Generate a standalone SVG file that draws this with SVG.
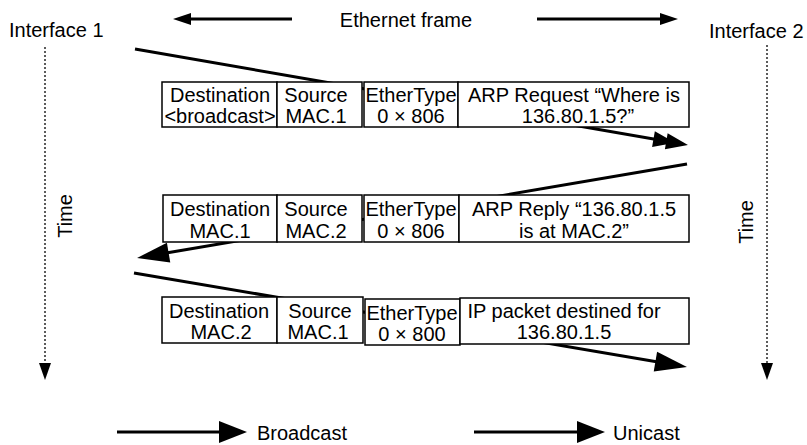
<svg xmlns="http://www.w3.org/2000/svg" width="807" height="445" viewBox="0 0 807 445">
<style>
text{font-family:"Liberation Sans",Arial,sans-serif;font-size:20px;fill:#000}
.c{text-anchor:middle}
.cell{fill:#fff;stroke:#000;stroke-width:1.5}
.ln{stroke:#000;stroke-width:3;fill:none}
.dot{stroke:#333;stroke-width:1.6;stroke-dasharray:2 2;fill:none}
</style>
<defs>
<marker id="bc" markerUnits="userSpaceOnUse" markerWidth="40" markerHeight="20" refX="25" refY="8" orient="auto" overflow="visible"><path d="M0,0 L22,8 L0,16 Z M13,0 L35,8 L13,16 Z" fill="#000"/></marker>
<marker id="uc" markerUnits="userSpaceOnUse" markerWidth="34" markerHeight="22" refX="22" refY="10" orient="auto" overflow="visible"><path d="M0,0 L32,10 L0,20 Z" fill="#000"/></marker>
<marker id="lg" markerUnits="userSpaceOnUse" markerWidth="30" markerHeight="24" refX="18" refY="11" orient="auto" overflow="visible"><path d="M0,0 L28,11 L0,22 Z" fill="#000"/></marker>
<marker id="sm" markerUnits="userSpaceOnUse" markerWidth="20" markerHeight="14" refX="8" refY="6" orient="auto" overflow="visible"><path d="M0,0 L18,6 L0,12 Z" fill="#000"/></marker>
<marker id="tm" markerUnits="userSpaceOnUse" markerWidth="20" markerHeight="14" refX="7" refY="6" orient="auto" overflow="visible"><path d="M0,0 L17,6 L0,12 Z" fill="#000"/></marker>
</defs>

<g id="connectors">
<line class="ln" x1="292" y1="19" x2="183" y2="19" marker-end="url(#sm)"/>
<line class="ln" x1="537" y1="19" x2="668" y2="19" marker-end="url(#sm)"/>
<line class="dot" x1="45" y1="47" x2="45" y2="370" marker-end="url(#tm)"/>
<line class="dot" x1="767" y1="45" x2="767" y2="370" marker-end="url(#tm)"/>
<line class="ln" x1="135" y1="49" x2="678.1" y2="143.3" marker-end="url(#bc)"/>
<line class="ln" x1="687" y1="164" x2="146.9" y2="256.3" marker-end="url(#uc)"/>
<line class="ln" x1="134" y1="273" x2="677.1" y2="365.3" marker-end="url(#uc)"/>
<line class="ln" x1="117" y1="432" x2="237" y2="432" marker-end="url(#lg)"/>
<line class="ln" x1="474" y1="432" x2="595" y2="432" marker-end="url(#lg)"/>
</g>

<g id="labels">
<text x="406" y="27" class="c">Ethernet frame</text>
<text x="9" y="37">Interface 1</text>
<text x="709" y="38">Interface 2</text>
<text transform="translate(72,216) rotate(-90)" class="c">Time</text>
<text transform="translate(753,222) rotate(-90)" class="c">Time</text>
<text x="257" y="440">Broadcast</text>
<text x="613" y="440">Unicast</text>
</g>

<g id="frame1">
<rect class="cell" x="162" y="82" width="115" height="45"/>
<rect class="cell" x="277" y="82" width="85" height="45"/>
<rect class="cell" x="364" y="82" width="94" height="45"/>
<rect class="cell" x="458" y="82" width="231" height="45"/>
<text x="220" y="102" class="c">Destination</text>
<text x="220" y="123" class="c">&lt;broadcast&gt;</text>
<text x="316" y="102" class="c">Source</text>
<text x="316" y="123" class="c">MAC.1</text>
<text x="411" y="102" class="c">EtherType</text>
<text x="411" y="123" class="c">0 × 806</text>
<text x="574" y="102" class="c">ARP Request “Where is</text>
<text x="578" y="123" class="c">136.80.1.5?”</text>
</g>

<g id="frame2">
<rect class="cell" x="163" y="195" width="114" height="47"/>
<rect class="cell" x="277" y="195" width="85" height="47"/>
<rect class="cell" x="364" y="195" width="95" height="47"/>
<rect class="cell" x="459" y="195" width="230" height="47"/>
<text x="220" y="216" class="c">Destination</text>
<text x="220" y="238" class="c">MAC.1</text>
<text x="316" y="216" class="c">Source</text>
<text x="316" y="238" class="c">MAC.2</text>
<text x="411" y="216" class="c">EtherType</text>
<text x="411" y="238" class="c">0 × 806</text>
<text x="574" y="216" class="c">ARP Reply “136.80.1.5</text>
<text x="574" y="238" class="c">is at MAC.2”</text>
</g>

<g id="frame3">
<rect class="cell" x="162" y="297" width="115" height="46"/>
<rect class="cell" x="277" y="297" width="86" height="46"/>
<rect class="cell" x="365" y="299" width="95" height="46"/>
<rect class="cell" x="460" y="298" width="229" height="46"/>
<text x="219" y="318" class="c">Destination</text>
<text x="221" y="339" class="c">MAC.2</text>
<text x="320" y="318" class="c">Source</text>
<text x="318" y="339" class="c">MAC.1</text>
<text x="412" y="320" class="c">EtherType</text>
<text x="412" y="341" class="c">0 × 800</text>
<text x="564" y="318" class="c">IP packet destined for</text>
<text x="564" y="339" class="c">136.80.1.5</text>
</g>
</svg>
